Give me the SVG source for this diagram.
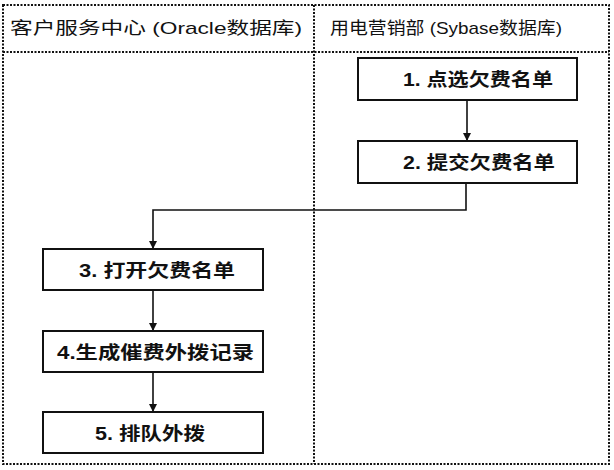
<svg xmlns="http://www.w3.org/2000/svg" width="614" height="470" viewBox="0 0 614 470">
<defs>
<marker id="ah" viewBox="0 0 10 10" refX="10" refY="5" markerWidth="8" markerHeight="9" markerUnits="userSpaceOnUse" orient="auto"><path d="M0,0 L10,5 L0,10 z" fill="#111"/></marker>
<style>
.lane{fill:none;stroke:#111;stroke-width:2;stroke-dasharray:2 1.5}
.box{fill:#fff;stroke:#111;stroke-width:2}
.hd{font-family:"Liberation Sans","Noto Sans CJK SC",sans-serif;font-size:17px;fill:#111}
.lb{font-family:"Liberation Sans","Noto Sans CJK SC",sans-serif;font-size:18px;font-weight:bold;fill:#111}
.cn{fill:none;stroke:#111;stroke-width:1.6}
</style>
</defs>
<rect width="614" height="470" fill="#fff"/>
<g id="lanes">
<rect class="lane" x="3" y="5" width="606" height="459"/>
<line class="lane" x1="3" y1="52" x2="609" y2="52"/>
<line class="lane" x1="314" y1="5" x2="314" y2="464"/>
<text class="hd" x="10" y="34" textLength="292" lengthAdjust="spacingAndGlyphs">客户服务中心 (Oracle数据库)</text>
<text class="hd" x="330" y="34" textLength="232" lengthAdjust="spacingAndGlyphs">用电营销部 (Sybase数据库)</text>
</g>
<g id="connectors">
<line class="cn" x1="467" y1="100" x2="467" y2="141" marker-end="url(#ah)"/>
<polyline class="cn" points="466,183 466,210 153,210 153,249" marker-end="url(#ah)"/>
<line class="cn" x1="153" y1="290" x2="153" y2="331" marker-end="url(#ah)"/>
<line class="cn" x1="153" y1="372" x2="153" y2="412" marker-end="url(#ah)"/>
</g>
<g id="n1"><rect class="box" x="358" y="58" width="219" height="42"/><text class="lb" x="403" y="86" textLength="150" lengthAdjust="spacingAndGlyphs">1. 点选欠费名单</text></g>
<g id="n2"><rect class="box" x="358" y="141" width="219" height="42"/><text class="lb" x="403" y="169" textLength="152" lengthAdjust="spacingAndGlyphs">2. 提交欠费名单</text></g>
<g id="n3"><rect class="box" x="43" y="249" width="220" height="41"/><text class="lb" x="79" y="277" textLength="156" lengthAdjust="spacingAndGlyphs">3. 打开欠费名单</text></g>
<g id="n4"><rect class="box" x="43" y="331" width="220" height="41"/><text class="lb" x="57" y="359" textLength="197" lengthAdjust="spacingAndGlyphs">4.生成催费外拨记录</text></g>
<g id="n5"><rect class="box" x="43" y="412" width="220" height="41"/><text class="lb" x="95" y="440" textLength="110" lengthAdjust="spacingAndGlyphs">5. 排队外拨</text></g>
</svg>
